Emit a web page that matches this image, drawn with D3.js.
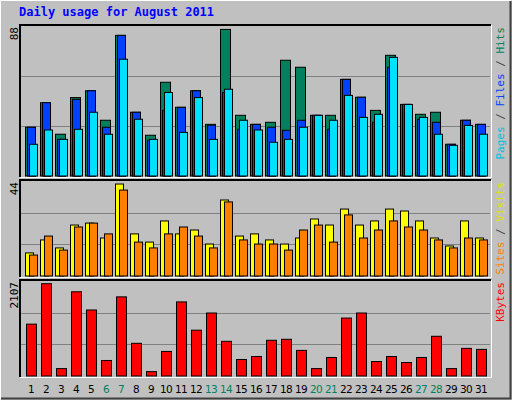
<!DOCTYPE html>
<html><head><meta charset="utf-8">
<script src="https://cdn.jsdelivr.net/npm/d3@7"></script>
<style>body{margin:0;background:#fff}</style>
</head><body><div id="chart"></div>
<script>
const days = d3.range(1, 32);
const weekends = [6, 7, 13, 14, 20, 21, 27, 28];
const hits   = [28.6,43,24.5,46,50,32.7,82.5,37.4,23.9,55,40.3,50,30.3,86,35.6,30.3,31.5,67.9,63.8,35.6,35.6,56.7,46.2,38.5,70.8,42,36.2,37.4,18.6,32.7,30.3];
const files  = [28.6,43,21.5,45,50,28.6,82.5,37.4,21,38.5,40.3,50,29.8,49,27.4,30.3,28.6,26.8,32.7,35.6,27.4,56.7,46.2,31.5,63.8,42,33.3,31.5,18.6,32.7,30.3];
const pages  = [18.6,27,21.5,27.4,37.4,24.5,68.5,33.3,21.5,49,25.6,46,21.5,50.9,32.7,27,19.8,21.5,28.6,35.6,32.7,47.3,34.4,36.2,69.6,42,34.4,24.5,18,29.7,24.5];
const visits = [10.7,16.7,13,23.6,24.5,17.6,42.6,19.5,15.7,25.5,19.5,21.3,14.8,35.2,18.5,19.5,16.7,14.8,17.6,26.4,23.6,31,23.6,25.5,31,30.1,25.5,17.6,13.9,25.5,17.6];
const sites  = [9.7,18.5,12,22.7,24.5,19.5,39.8,15.7,13,19.5,22.7,18.5,13,34.3,16.7,14.8,14.8,12,21.3,23.6,15.7,28.3,17.6,21.3,25.5,22.7,21.3,16.7,13,17.6,16.7];
const kbytes = [1150,2047,164,1868,1464,344,1755,725,97,545,1643,1016,1397,769,366,433,792,814,568,164,411,1285,1397,321,433,299,411,881,164,613,590];
const maxLabels = ["88", "44", "2107"];

const W = 512, H = 400;
const svg = d3.select("#chart").append("svg").attr("width", W).attr("height", H);
const mono = "DejaVu Sans Mono";

// background + bevel
svg.append("rect").attr("width", W).attr("height", H).attr("fill", "#c0c0c0");
svg.append("path").attr("d", `M0.5,${H-0.5}V0.5H${W-0.5}`).attr("stroke", "#fff").attr("fill", "none");
svg.append("path").attr("d", `M1,${H-1.5}H${W-1.5}V1`).attr("stroke", "#404040").attr("stroke-width", 2).attr("fill", "none");

svg.append("text").attr("x", 19).attr("y", 16).text("Daily usage for August 2011")
    .attr("fill", "#0000ff").style("font-family", mono).style("font-weight", "bold").style("font-size", "12px");

const x = d3.scaleLinear().domain([1, 31]).range([25, 475]);

const panels = [
    { top: 25, base: 176, max: 88, series: [[hits, "#00805c", 0, 10], [files, "#0040ff", 2, 8], [pages, "#00e0ff", 4, 8]],
      label: [["Pages", "#00c0e0"], [" / ", "#404040"], ["Files", "#0040ff"], [" / ", "#404040"], ["Hits", "#00805c"]] },
    { top: 180, base: 276, max: 44, series: [[visits, "#ffff00", 0, 8], [sites, "#ff8000", 4, 8]],
      label: [["Sites", "#ff8000"], [" / ", "#404040"], ["Visits", "#e0e000"]] },
    { top: 280, base: 376, max: 2107, series: [[kbytes, "#ff0000", 1, 10]],
      label: [["KBytes", "#ff0000"]] }
];

panels.forEach((p, i) => {
    const y = d3.scaleLinear().domain([0, p.max]).range([p.base, p.top + 1]);
    svg.append("rect").attr("x", 20).attr("y", p.top).attr("width", 471).attr("height", p.base - p.top + 1)
        .attr("fill", "#c0c0c0");
    [p.max / 3, 2 * p.max / 3].forEach(v => {
        svg.append("line").attr("x1", 21).attr("x2", 490).attr("y1", Math.round(y(v)) + 0.5).attr("y2", Math.round(y(v)) + 0.5)
            .attr("stroke", "#808080");
    });
    p.series.forEach(([vals, col, dx, w]) => {
        svg.append("g").selectAll("rect").data(vals).enter().append("rect")
            .attr("x", (d, k) => x(days[k]) + dx + 0.5)
            .attr("y", d => y(d))
            .attr("width", w)
            .attr("height", d => p.base - y(d))
            .attr("fill", col).attr("stroke", "#000").attr("stroke-width", 1);
    });
    // frame
    svg.append("path").attr("d", `M20,${p.base + 1}V${p.top}H491`).attr("stroke", "#000").attr("stroke-width", 2).attr("fill", "none");
    svg.append("path").attr("d", `M20,${p.base + 1.5}H491.5V${p.top}`).attr("stroke", "#fff").attr("stroke-width", 1).attr("fill", "none");
    // max label
    svg.append("text").attr("transform", `translate(18,${p.top + 2}) rotate(-90)`).attr("text-anchor", "end")
        .text(maxLabels[i]).style("font-family", mono).style("font-size", "11px").attr("fill", "#000");
    // right label
    const t = svg.append("text").attr("transform", `translate(504,${p.top + 2}) rotate(-90)`).attr("text-anchor", "end")
        .style("font-family", mono).style("font-size", "11px");
    p.label.forEach(([s, c]) => t.append("tspan").text(s).attr("fill", c).attr("xml:space", "preserve"));
});

// day labels
svg.append("g").selectAll("text").data(days).enter().append("text")
    .attr("x", d => x(d) + 6).attr("y", 393).attr("text-anchor", "middle")
    .text(d => d).attr("fill", d => weekends.includes(d) ? "#008060" : "#000")
    .style("font-family", "DejaVu Sans").style("font-size", "10.5px").style("letter-spacing", "-0.6px");
</script></body></html>
